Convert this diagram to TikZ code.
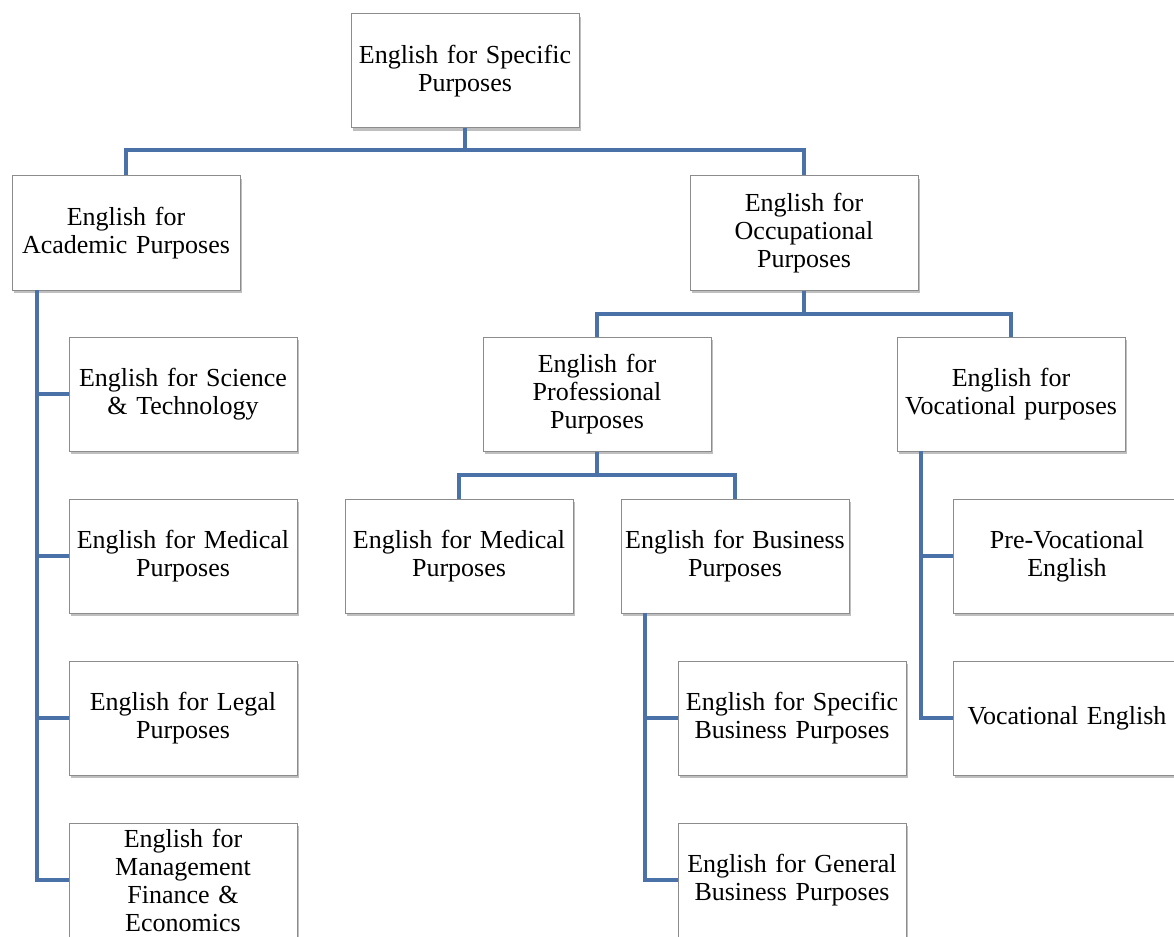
\documentclass[tikz,border=0pt]{standalone}
\usepackage{fontspec}
\setmainfont{Liberation Serif}
\usetikzlibrary{shadows,calc}
\definecolor{linkc}{HTML}{4A72A8}
\tikzset{
  box/.style={draw=black!45, line width=1pt, fill=white, minimum width=228pt, minimum height=114pt,
    text width=226pt, align=center, inner sep=0pt,
    font=\fontsize{26}{28}\selectfont,
    drop shadow={shadow xshift=2pt, shadow yshift=-3pt, fill=black, opacity=0.25}},
  conn/.style={draw=linkc, line width=4.5pt},
}
\begin{document}
\begin{tikzpicture}[x=1pt,y=-1pt]
\useasboundingbox (0,0) rectangle (1174,936);
\clip (0,0) rectangle (1174,936);
% nodes
\node[box] (esp) at (465,71) {English for Specific\\Purposes};
\node[box] (eap) at (126,233) {English for\\Academic Purposes};
\node[box] (eop) at (804,233) {English for\\Occupational\\Purposes};
\node[box] (sci) at (183,394) {English for Science\\\& Technology};
\node[box] (med) at (183,556) {English for Medical\\Purposes};
\node[box] (leg) at (183,718) {English for Legal\\Purposes};
\node[box] (mgt) at (183,880) {English for\\Management\\Finance \&\\Economics};
\node[box] (epp) at (597,394) {English for\\Professional\\Purposes};
\node[box] (evp) at (1011,394) {English for\\Vocational purposes};
\node[box] (emp) at (459,556) {English for Medical\\Purposes};
\node[box] (ebp) at (735,556) {English for Business\\Purposes};
\node[box] (esbp) at (792,718) {English for Specific\\Business Purposes};
\node[box] (egbp) at (792,880) {English for General\\Business Purposes};
\node[box] (pve) at (1067,556) {Pre-Vocational\\English};
\node[box] (voe) at (1067,718) {Vocational English};
% junction coordinates
\coordinate (j1) at (465,150);
\coordinate (a0) at (37,290);
\coordinate (j2) at (804,314);
\coordinate (j3) at (597,475);
\coordinate (b0) at (645,613);
\coordinate (v0) at (921,451);
% connectors
\draw[conn] (esp.south) -- (j1);
\draw[conn] (j1) -| (eap.north);
\draw[conn] (j1) -| (eop.north);
\draw[conn] (a0) |- (mgt.west);
\draw[conn] (a0 |- sci.west) -- (sci.west);
\draw[conn] (a0 |- med.west) -- (med.west);
\draw[conn] (a0 |- leg.west) -- (leg.west);
\draw[conn] (eop.south) -- (j2);
\draw[conn] (j2) -| (epp.north);
\draw[conn] (j2) -| (evp.north);
\draw[conn] (epp.south) -- (j3);
\draw[conn] (j3) -| (emp.north);
\draw[conn] (j3) -| (ebp.north);
\draw[conn] (b0) |- (egbp.west);
\draw[conn] (b0 |- esbp.west) -- (esbp.west);
\draw[conn] (v0) |- (voe.west);
\draw[conn] (v0 |- pve.west) -- (pve.west);
\end{tikzpicture}
\end{document}
